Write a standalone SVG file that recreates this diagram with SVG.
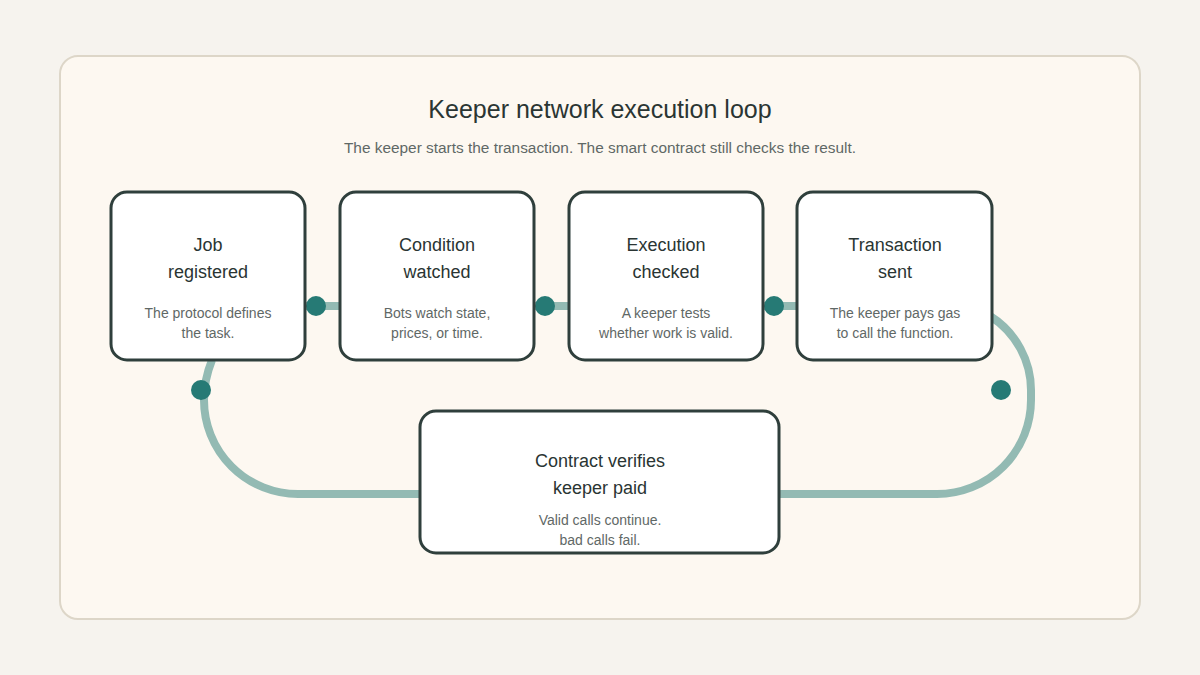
<svg xmlns="http://www.w3.org/2000/svg" width="1200" height="675" viewBox="0 0 1200 675">
<style>
.box{fill:#fff;stroke:#2f3f3c;stroke-width:3}
.t{font-family:"Liberation Sans",Arial,sans-serif;font-size:18px;fill:#2a3533;text-anchor:middle}
.s{font-family:"Liberation Sans",Arial,sans-serif;font-size:14px;fill:#5f6866;text-anchor:middle}
.c{fill:none;stroke:#93bab3;stroke-width:8}
.d{fill:#267a75}
</style>
<rect width="1200" height="675" fill="#f6f3ee"/>
<rect x="60" y="56" width="1080" height="563" rx="18" fill="#fdf8f1" stroke="#ddd6c8" stroke-width="2"/>
<text x="600" y="118" class="t" style="font-size:25px">Keeper network execution loop</text>
<text x="600" y="153" class="s" style="font-size:15.4px">The keeper starts the transaction. The smart contract still checks the result.</text>
<g id="connectors">
<path class="c" d="M305 306 H340 M534 306 H569 M763 306 H797"/>
<path class="c" d="M990 316 A88 88 0 0 1 1031 392 L1031 400 A94 94 0 0 1 937 494 L780 494"/>
<path class="c" d="M212 360 Q204 380 204 400 A94 94 0 0 0 298 494 L420 494"/>
<circle class="d" cx="316" cy="306" r="10"/>
<circle class="d" cx="545" cy="306" r="10"/>
<circle class="d" cx="774" cy="306" r="10"/>
<circle class="d" cx="1001" cy="390" r="10"/>
<circle class="d" cx="201" cy="390" r="10"/>
</g>
<g id="n1"><rect class="box" x="111" y="192" width="194" height="168" rx="16"/>
<text class="t" x="208" y="251">Job</text><text class="t" x="208" y="278">registered</text>
<text class="s" x="208" y="318">The protocol defines</text><text class="s" x="208" y="338">the task.</text></g>
<g id="n2"><rect class="box" x="340" y="192" width="194" height="168" rx="16"/>
<text class="t" x="437" y="251">Condition</text><text class="t" x="437" y="278">watched</text>
<text class="s" x="437" y="318">Bots watch state,</text><text class="s" x="437" y="338">prices, or time.</text></g>
<g id="n3"><rect class="box" x="569" y="192" width="194" height="168" rx="16"/>
<text class="t" x="666" y="251">Execution</text><text class="t" x="666" y="278">checked</text>
<text class="s" x="666" y="318">A keeper tests</text><text class="s" x="666" y="338">whether work is valid.</text></g>
<g id="n4"><rect class="box" x="797" y="192" width="195" height="168" rx="16"/>
<text class="t" x="895" y="251">Transaction</text><text class="t" x="895" y="278">sent</text>
<text class="s" x="895" y="318">The keeper pays gas</text><text class="s" x="895" y="338">to call the function.</text></g>
<g id="n5"><rect class="box" x="420" y="411" width="359" height="142" rx="16"/>
<text class="t" x="600" y="467">Contract verifies</text><text class="t" x="600" y="494">keeper paid</text>
<text class="s" x="600" y="525">Valid calls continue.</text><text class="s" x="600" y="545">bad calls fail.</text></g>
</svg>
